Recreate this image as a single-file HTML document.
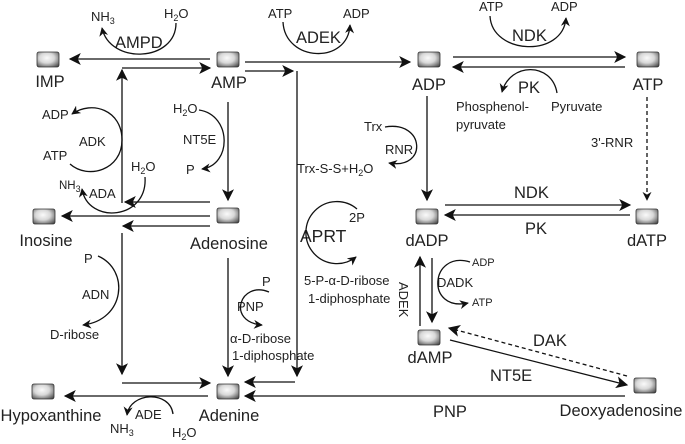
<!DOCTYPE html>
<html><head><meta charset="utf-8"><style>
html,body{margin:0;padding:0;background:#fff}
svg{display:block}
text{font-family:"Liberation Sans",sans-serif;fill:#222}
.L{font-size:16.5px}
.S{font-size:13px}
.s{font-size:9px}
</style></head><body>
<svg width="685" height="444" viewBox="0 0 685 444" xmlns="http://www.w3.org/2000/svg">
<defs>
<radialGradient id="g" cx="0.45" cy="0.4" r="0.75">
<stop offset="0" stop-color="#fafafa"/><stop offset="0.45" stop-color="#d8d8d8"/><stop offset="1" stop-color="#444"/>
</radialGradient>
<marker id="a" viewBox="0 0 10 10" refX="9" refY="5" markerWidth="9" markerHeight="9" markerUnits="userSpaceOnUse" orient="auto"><path d="M0,0 L10,5 L0,10 L3,5z" fill="#111"/></marker>
<marker id="A" viewBox="0 0 10 10" refX="9" refY="5" markerWidth="16" markerHeight="12" markerUnits="userSpaceOnUse" orient="auto"><path d="M0,0 L10,5 L0,10 L2.5,5z" fill="#111"/></marker>
</defs>
<g fill="url(#g)" stroke="#333" stroke-width="0.8">
<rect x="37" y="52" width="22" height="15" rx="2"/>
<rect x="217" y="52" width="22" height="15" rx="2"/>
<rect x="418" y="52" width="22" height="15" rx="2"/>
<rect x="637" y="52" width="22" height="15" rx="2"/>
<rect x="33" y="209" width="22" height="15" rx="2"/>
<rect x="217" y="208" width="22" height="15" rx="2"/>
<rect x="416" y="209" width="22" height="15" rx="2"/>
<rect x="636" y="209" width="22" height="15" rx="2"/>
<rect x="418" y="330" width="22" height="15" rx="2"/>
<rect x="634" y="378" width="22" height="15" rx="2"/>
<rect x="32" y="384" width="22" height="15" rx="2"/>
<rect x="217" y="384" width="22" height="15" rx="2"/>
</g>
<g class="L" text-anchor="middle">
<text x="50" y="87">IMP</text><text x="229" y="88">AMP</text><text x="429" y="90">ADP</text><text x="648" y="90">ATP</text>
<text x="46" y="246">Inosine</text><text x="229" y="249">Adenosine</text><text x="427" y="246">dADP</text><text x="647" y="246">dATP</text>
<text x="430" y="363">dAMP</text><text x="621" y="416">Deoxyadenosine</text><text x="51" y="421">Hypoxanthine</text><text x="229" y="421">Adenine</text>
</g>
<g class="L">
<text x="115" y="48">AMPD</text><text x="296" y="43">ADEK</text><text x="512" y="41">NDK</text><text x="518" y="93">PK</text>
<text x="514" y="198">NDK</text><text x="525" y="234">PK</text><text x="533" y="346">DAK</text><text x="490" y="381">NT5E</text><text x="433" y="417">PNP</text>
<text x="300" y="242" style="font-size:17.5px">APRT</text>
</g>
<g class="S">
<text x="79" y="146">ADK</text><text x="183" y="144">NT5E</text><text x="89" y="198">ADA</text><text x="385" y="154">RNR</text>
<text x="82" y="299">ADN</text><text x="237" y="311">PNP</text><text x="437" y="287">DADK</text>
<text x="135" y="419">ADE</text>
<text x="42" y="119">ADP</text><text x="43" y="160">ATP</text><text x="186" y="174">P</text>
<text x="91" y="21">NH<tspan class="s" dy="3">3</tspan></text>
<text x="164" y="18">H<tspan class="s" dy="3">2</tspan><tspan dy="-3">O</tspan></text>
<text x="268" y="18">ATP</text><text x="343" y="18">ADP</text>
<text x="479" y="11">ATP</text><text x="551" y="11">ADP</text>
<text x="551" y="111">Pyruvate</text>
<text x="456" y="111">Phosphenol-</text><text x="456" y="129">pyruvate</text>
<text x="591" y="147">3'-RNR</text>
<text x="173" y="113">H<tspan class="s" dy="3">2</tspan><tspan dy="-3">O</tspan></text>
<text x="131" y="171">H<tspan class="s" dy="3">2</tspan><tspan dy="-3">O</tspan></text>
<text x="59" y="189" style="font-size:11.5px">NH<tspan class="s" dy="3">3</tspan></text>
<text x="364" y="131">Trx</text>
<text x="297" y="173">Trx-S-S+H<tspan class="s" dy="3">2</tspan><tspan dy="-3">O</tspan></text>
<text x="349" y="222">2P</text>
<text x="304" y="285">5-P-α-D-ribose</text><text x="308" y="303">1-diphosphate</text>
<text x="84" y="263">P</text><text x="50" y="339">D-ribose</text>
<text x="262" y="286">P</text>
<text x="230" y="343">α-D-ribose</text><text x="232" y="360">1-diphosphate</text>
<text x="110" y="433">NH<tspan class="s" dy="3">3</tspan></text>
<text x="172" y="437">H<tspan class="s" dy="3">2</tspan><tspan dy="-3">O</tspan></text>
<text x="0" y="0" transform="translate(399,282) rotate(90)">ADEK</text>
</g>
<g style="font-size:11px">
<text x="472" y="266">ADP</text><text x="472" y="306">ATP</text>
</g>
<g stroke="#111" stroke-width="1.3" fill="none">
<path d="M210 59 H70" marker-end="url(#A)"/>
<path d="M122 68 H210" marker-end="url(#A)"/>
<path d="M122 203 V70" marker-end="url(#A)"/>
<path d="M245 62 H410" marker-end="url(#A)"/>
<path d="M245 71 H293" marker-end="url(#A)"/>
<path d="M297 71 V376" marker-end="url(#A)"/>
<path d="M295 382 H245" marker-end="url(#A)"/>
<path d="M453 57 H625" marker-end="url(#A)"/>
<path d="M625 67 H453" marker-end="url(#A)"/>
<path d="M228 102 V200" marker-end="url(#A)"/>
<path d="M210 202 H125" marker-end="url(#A)"/>
<path d="M210 216 H62" marker-end="url(#A)"/>
<path d="M210 226 H123" marker-end="url(#A)"/>
<path d="M122 233 V374" marker-end="url(#A)"/>
<path d="M122 383 H210" marker-end="url(#A)"/>
<path d="M228 258 V376" marker-end="url(#A)"/>
<path d="M208 396 H65" marker-end="url(#A)"/>
<path d="M625 396 H245" marker-end="url(#A)"/>
<path d="M427 96 V200" marker-end="url(#A)"/>
<path d="M445 205 H630" marker-end="url(#A)"/>
<path d="M630 215 H445" marker-end="url(#A)"/>
<path d="M647 97 V200" stroke-dasharray="4,3" marker-end="url(#a)"/>
<path d="M420 326 V257" marker-end="url(#A)"/>
<path d="M432 258 V322" marker-end="url(#A)"/>
<path d="M450 340 L627 385" marker-end="url(#A)"/>
<path d="M627 376 L449 328" stroke-dasharray="4,3" marker-end="url(#A)"/>
<path d="M176 23 C176 62 110 65 102 28" marker-end="url(#a)"/>
<path d="M283 22 C285 62 348 65 350 25" marker-end="url(#a)"/>
<path d="M490 16 C492 55 563 58 566 18" marker-end="url(#a)"/>
<path d="M557 93 C552 62 510 62 502 92" marker-end="url(#a)"/>
<path d="M70 164 C88 180 122 170 122 140 C122 110 92 100 72 114" marker-end="url(#a)"/>
<path d="M199 110 C232 115 232 165 202 169" marker-end="url(#a)"/>
<path d="M145 177 C148 220 88 225 82 189" marker-end="url(#a)"/>
<path d="M385 127 C425 120 428 170 389 163" marker-end="url(#a)"/>
<path d="M357 209 A31 31 0 1 0 356 257" marker-end="url(#a)"/>
<path d="M98 256 C130 270 125 320 83 325" marker-end="url(#a)"/>
<path d="M269 292 C240 280 226 322 262 325" marker-end="url(#a)"/>
<path d="M470 262 C430 250 425 312 468 303" marker-end="url(#a)"/>
<path d="M173 414 C170 390 130 392 127 415" marker-end="url(#a)"/>
</g>
</svg>
</body></html>
